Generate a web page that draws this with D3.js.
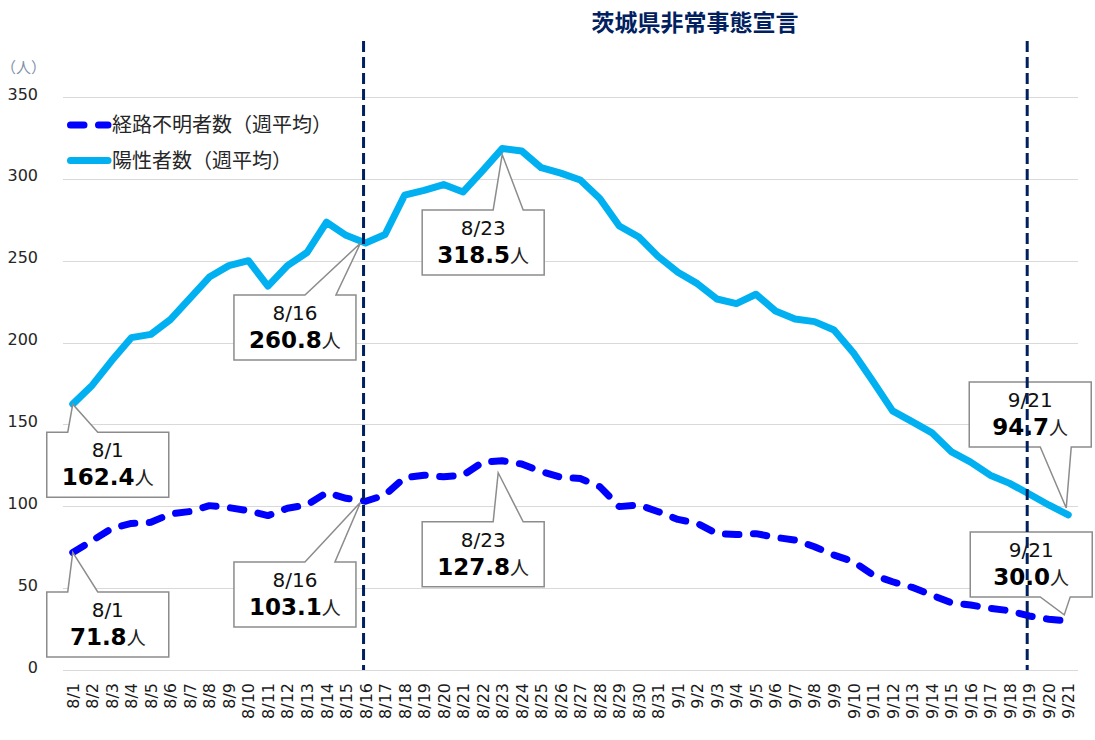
<!DOCTYPE html>
<html>
<head>
<meta charset="utf-8">
<script src="https://cdn.jsdelivr.net/npm/d3@7"></script>
<style>
  html, body { margin: 0; padding: 0; background: #fff; }
  svg { display: block; }
</style>
</head>
<body>
<svg id="chart" width="1095" height="740"></svg>
<script>
// ---- data ----
const categories = [
  "8/1","8/2","8/3","8/4","8/5","8/6","8/7","8/8","8/9","8/10",
  "8/11","8/12","8/13","8/14","8/15","8/16","8/17","8/18","8/19","8/20",
  "8/21","8/22","8/23","8/24","8/25","8/26","8/27","8/28","8/29","8/30","8/31",
  "9/1","9/2","9/3","9/4","9/5","9/6","9/7","9/8","9/9","9/10",
  "9/11","9/12","9/13","9/14","9/15","9/16","9/17","9/18","9/19","9/20","9/21"
];
const positiveWeekly = [
  162.4, 174, 189, 203, 205, 214, 227, 240, 247, 250,
  234.5, 247, 255, 273.5, 265.5, 260.8, 266, 290, 293, 296.5,
  292, 305, 318.5, 317, 306.8, 303.5, 299.3, 288, 271.2, 264.5, 252.5,
  243, 236, 226.6, 223.8, 229.5, 219.3, 214.4, 212.8, 207.7, 193.6,
  176.2, 158.3, 151.7, 145, 133.4, 127, 119, 114, 107.5, 100.8, 94.7
];
const unknownWeekly = [
  71.8, 79, 86.5, 89.5, 90.2, 95.3, 96.8, 100.4, 99.2, 97.3,
  94.3, 98.8, 100.8, 108.3, 104.9, 103.1, 106.9, 117.5, 119, 118,
  119, 126.9, 127.8, 125.8, 121.2, 117.7, 117, 112, 99.8, 100.8, 96.7,
  92, 89.6, 83.3, 82.7, 83.3, 81, 79.4, 75.3, 70.2, 66.2,
  58, 53.9, 50.5, 45.8, 41.1, 39.7, 37.7, 36.2, 33, 31, 30.0
];
const yTicks = [0, 50, 100, 150, 200, 250, 300, 350];
const seriesNames = ["経路不明者数（週平均）", "陽性者数（週平均）"];
const emergencyDates = ["8/16", "9/19"];
const titleText = "茨城県非常事態宣言";
const unitLabel = "（人）";
const unitSuffix = "人";

(function () {
// ---- layout ----
const svg = d3.select("#chart");
const pL = 63, pR = 1078, pT = 97, pB = 670;
const x = d3.scalePoint().domain(categories).range([pL, pR]).padding(0.5);
const y = d3.scaleLinear().domain([0, 350]).range([pB, pT]);

const numFont = "'DejaVu Sans', Verdana, sans-serif";
const jpFont = "'Noto Sans CJK JP', 'Noto Sans', sans-serif";

// gridlines
svg.append("g")
  .selectAll("line")
  .data(yTicks)
  .join("line")
  .attr("x1", pL).attr("x2", pR)
  .attr("y1", d => Math.round(y(d)) + 0.5).attr("y2", d => Math.round(y(d)) + 0.5)
  .attr("stroke", "#d9d9d9").attr("stroke-width", 1);

// y axis
const yAxis = d3.axisLeft(y).tickValues(yTicks).tickSize(0).tickPadding(0);
const yg = svg.append("g").attr("transform", "translate(38,-3)").call(yAxis);
yg.select(".domain").remove();
yg.selectAll("text")
  .attr("font-family", numFont).attr("font-size", 16).attr("fill", "#262626");

svg.append("text")
  .attr("x", 1).attr("y", 73)
  .attr("font-family", jpFont).attr("font-size", 15).attr("fill", "#8091a8")
  .text(unitLabel);

// x axis
const xAxis = d3.axisBottom(x).tickSize(0).tickPadding(0);
const xg = svg.append("g").attr("transform", `translate(0,${pB})`).call(xAxis);
xg.select(".domain").remove();
xg.selectAll("text")
  .attr("font-family", numFont).attr("font-size", 16).attr("fill", "#1a1a1a")
  .attr("text-anchor", "end")
  .attr("dy", null)
  .attr("y", 0)
  .attr("dominant-baseline", "central")
  .attr("transform", "translate(0,13) rotate(-90)");

// lines
const lineGen = d3.line()
  .x((d, i) => x(categories[i]))
  .y(d => y(d));

svg.append("path")
  .datum(positiveWeekly)
  .attr("d", lineGen)
  .attr("fill", "none").attr("stroke", "#00b0f0").attr("stroke-width", 7)
  .attr("stroke-linejoin", "round").attr("stroke-linecap", "round");

svg.append("path")
  .datum(unknownWeekly)
  .attr("d", lineGen)
  .attr("fill", "none").attr("stroke", "#0000ff").attr("stroke-width", 7)
  .attr("stroke-dasharray", "13.5 14.5")
  .attr("stroke-linejoin", "round").attr("stroke-linecap", "round");

// legend
const legend = svg.append("g");
legend.append("line")
  .attr("x1", 70.5).attr("x2", 108).attr("y1", 125).attr("y2", 125)
  .attr("stroke", "#0000ff").attr("stroke-width", 7)
  .attr("stroke-dasharray", "13.5 14.5").attr("stroke-linecap", "round");
legend.append("text")
  .attr("x", 112).attr("y", 132)
  .attr("font-family", jpFont).attr("font-size", 20).attr("fill", "#262626")
  .text(seriesNames[0]);
legend.append("line")
  .attr("x1", 70.5).attr("x2", 108).attr("y1", 160.5).attr("y2", 160.5)
  .attr("stroke", "#00b0f0").attr("stroke-width", 7).attr("stroke-linecap", "round");
legend.append("text")
  .attr("x", 112).attr("y", 167.5)
  .attr("font-family", jpFont).attr("font-size", 20).attr("fill", "#262626")
  .text(seriesNames[1]);

// callouts (layout only; values come from the series arrays)
const calloutLayout = [
  { s: "pos", d: "8/1",  tdx: 0,  tdy: 0,  bdx: -26,   bdy: 28,   p1: 21, p2: 51,  side: "top" },
  { s: "unk", d: "8/1",  tdx: 0,  tdy: 0,  bdx: -26,   bdy: 39.5, p1: 21, p2: 51,  side: "top" },
  { s: "pos", d: "8/16", tdx: -5, tdy: 0,  bdx: -131.6,bdy: 52,   p1: 71, p2: 102, side: "top" },
  { s: "unk", d: "8/16", tdx: -5, tdy: 1,  bdx: -131.6,bdy: 60.8, p1: 71, p2: 101, side: "top" },
  { s: "pos", d: "8/23", tdx: 0,  tdy: 6,  bdx: -80,   bdy: 61.4, p1: 71, p2: 101, side: "top" },
  { s: "unk", d: "8/23", tdx: -4, tdy: 12, bdx: -80,   bdy: 61,   p1: 71, p2: 101, side: "top" },
  { s: "pos", d: "9/21", tdx: -2, tdy: -7, bdx: -99,   bdy: -133, p1: 71, p2: 102, side: "bottom" },
  { s: "unk", d: "9/21", tdx: -4, tdy: -6, bdx: -98,   bdy: -89,  p1: 70, p2: 100, side: "bottom" }
];
const BW = 122, BH = 65;
const cg = svg.append("g");
calloutLayout.forEach(c => {
  const idx = categories.indexOf(c.d);
  const val = (c.s === "pos" ? positiveWeekly : unknownWeekly)[idx];
  const px = x(c.d), py = y(val);
  const tx = px + c.tdx, ty = py + c.tdy;
  const L = px + c.bdx, T = py + c.bdy, R = L + BW, B = T + BH;
  let path;
  if (c.side === "top") {
    path = `M${L},${T}L${L + c.p1},${T}L${tx},${ty}L${L + c.p2},${T}L${R},${T}L${R},${B}L${L},${B}Z`;
  } else {
    path = `M${L},${T}L${R},${T}L${R},${B}L${L + c.p2},${B}L${tx},${ty}L${L + c.p1},${B}L${L},${B}Z`;
  }
  cg.append("path").attr("d", path)
    .attr("fill", "#fff").attr("stroke", "#8c8c8c").attr("stroke-width", 1.5)
    .attr("stroke-linejoin", "miter");
  const cx = L + BW / 2;
  cg.append("text")
    .attr("x", cx).attr("y", T + 25).attr("text-anchor", "middle")
    .attr("font-family", numFont).attr("font-size", 20).attr("fill", "#111")
    .text(c.d);
  const t = cg.append("text")
    .attr("x", cx).attr("y", T + 53).attr("text-anchor", "middle")
    .attr("fill", "#000");
  t.append("tspan").attr("font-family", numFont).attr("font-size", 23).attr("font-weight", "bold")
    .text(val.toFixed(1));
  t.append("tspan").attr("font-family", jpFont).attr("font-size", 19).attr("fill", "#222")
    .text(unitSuffix);
});

// emergency declaration lines
svg.append("g")
  .selectAll("line")
  .data(emergencyDates)
  .join("line")
  .attr("x1", d => x(d) - 2).attr("x2", d => x(d) - 2)
  .attr("y1", 41).attr("y2", pB)
  .attr("stroke", "#002060").attr("stroke-width", 3)
  .attr("stroke-dasharray", "11 5");

svg.append("text")
  .attr("x", 695).attr("y", 31).attr("text-anchor", "middle")
  .attr("font-family", jpFont).attr("font-size", 23).attr("font-weight", "bold")
  .attr("fill", "#002060")
  .text(titleText);
})();
</script>
</body>
</html>
